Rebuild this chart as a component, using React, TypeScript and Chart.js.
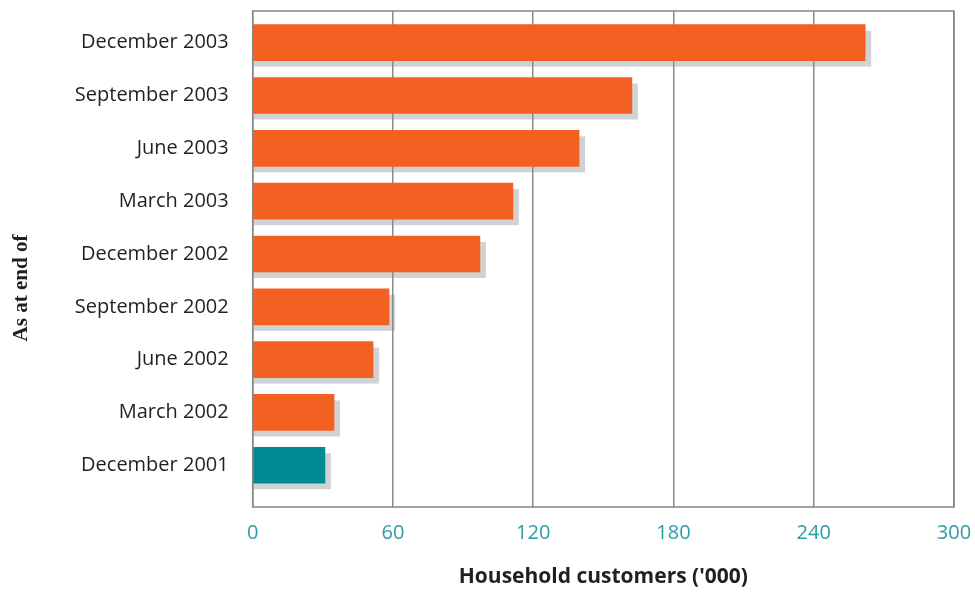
import React, { useEffect, useRef } from 'react';
import { Chart, registerables } from 'chart.js';

Chart.register(...registerables);

const categories = [
  'December 2003',
  'September 2003',
  'June 2003',
  'March 2003',
  'December 2002',
  'September 2002',
  'June 2002',
  'March 2002',
  'December 2001',
];
const customers = [262, 162.2, 139.6, 111.3, 97.2, 58.3, 51.5, 34.8, 30.9];
const ORANGE = '#F26122';
const TEAL = '#008A96';
const barColors = [ORANGE, ORANGE, ORANGE, ORANGE, ORANGE, ORANGE, ORANGE, ORANGE, TEAL];
const xTicks = [0, 60, 120, 180, 240, 300];
const xTitle = "Household customers ('000)";
const yTitle = 'As at end of';

const shadowPlugin = {
  id: 'barShadow',
  beforeDraw(chart: any) {
    const ctx = chart.ctx;
    const meta = chart.getDatasetMeta(0);
    ctx.save();
    ctx.fillStyle = '#d1d2d4';
    meta.data.forEach((el: any) => {
      const { x, y, base, height } = el.getProps(['x', 'y', 'base', 'height'], true);
      ctx.fillRect(base, y - height / 2 + 6, x + 6 - base, height);
    });
    ctx.restore();
  },
};

const framePlugin = {
  id: 'frame',
  afterDraw(chart: any) {
    const { ctx, chartArea } = chart;
    ctx.save();
    ctx.strokeStyle = '#858585';
    ctx.lineWidth = 1.5;
    ctx.strokeRect(chartArea.left, chartArea.top, chartArea.right - chartArea.left, chartArea.bottom - chartArea.top);
    ctx.restore();
  },
};

const yTitlePlugin = {
  id: 'yTitle',
  afterDraw(chart: any) {
    const { ctx } = chart;
    ctx.save();
    ctx.translate(22, 288);
    ctx.rotate(-Math.PI / 2);
    ctx.font = 'bold 21px "Liberation Serif"';
    ctx.fillStyle = '#231f20';
    ctx.textAlign = 'center';
    ctx.textBaseline = 'middle';
    ctx.fillText(yTitle, 0, 0);
    ctx.restore();
  },
};

const zeroPad = (s: any) => {
  s.paddingTop = 0;
  s.paddingBottom = 0;
  s.paddingLeft = 0;
  s.paddingRight = 0;
};

export default function App() {
  const ref = useRef<HTMLCanvasElement | null>(null);

  useEffect(() => {
    if (!ref.current) return;
    const chart = new Chart(ref.current, {
      type: 'bar',
      data: {
        datasets: [
          {
            data: customers.map((v, i) => ({ x: v, y: i })),
            backgroundColor: barColors,
            barThickness: 36,
            borderWidth: 0,
          },
        ],
      },
      options: {
        indexAxis: 'y',
        animation: false,
        responsive: false,
        maintainAspectRatio: false,
        devicePixelRatio: 1,
        layout: { padding: { top: 11, right: 21, left: 0, bottom: 0 } },
        plugins: { legend: { display: false }, tooltip: { enabled: false } },
        scales: {
          x: {
            type: 'linear',
            min: 0,
            max: 300,
            afterBuildTicks: (axis: any) => {
              axis.ticks = xTicks.map((v) => ({ value: v }));
            },
            afterFit: (s: any) => {
              s.height = 86;
              zeroPad(s);
            },
            grid: { color: '#8a8a8a', lineWidth: 1.5, drawTicks: false },
            border: { display: false },
            ticks: {
              padding: 14,
              color: '#2A9DA6',
              font: { family: '"Open Sans"', size: 20 },
            },
            title: {
              display: true,
              text: xTitle,
              color: '#231f20',
              font: { family: '"Open Sans"', size: 21, weight: 'bold' },
              padding: { top: 0, bottom: 3 },
            },
          },
          y: {
            type: 'linear',
            reverse: true,
            offset: false,
            min: -0.6,
            max: 8.79,
            afterBuildTicks: (axis: any) => {
              axis.ticks = categories.map((_, i) => ({ value: i }));
            },
            afterFit: (s: any) => {
              s.width = 252.7;
              zeroPad(s);
            },
            grid: { display: false, offset: false },
            border: { display: false },
            ticks: {
              padding: 16,
              color: '#231f20',
              font: { family: '"Open Sans"', size: 20 },
              callback: (v: any) => categories[v as number] ?? '',
            },
          },
        },
      },
      plugins: [shadowPlugin, framePlugin, yTitlePlugin],
    } as any);
    return () => chart.destroy();
  }, []);

  return (
    <div style={{ position: 'fixed', left: 0, top: 0, width: 975, height: 593, background: '#fff' }}>
      <canvas ref={ref} width={975} height={593} style={{ display: 'block' }} />
    </div>
  );
}
